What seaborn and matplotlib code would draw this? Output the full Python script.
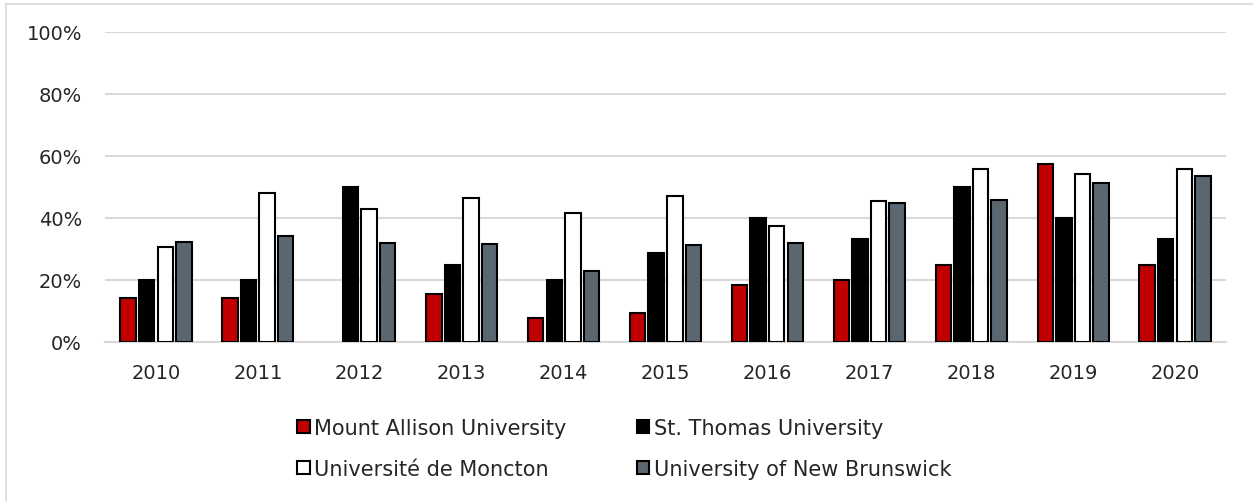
import pandas as pd
import numpy as np
import matplotlib.pyplot as plt
import seaborn as sns
from matplotlib.ticker import PercentFormatter

# Values (percent); no Mount Allison bar in 2012
years = ['2010', '2011', '2012', '2013', '2014', '2015', '2016', '2017', '2018', '2019', '2020']
mount_allison = [14.3, 14.3, np.nan, 15.5, 7.8, 9.2, 18.3, 20.0, 25.0, 57.3, 25.0]
st_thomas = [20.0, 20.0, 50.0, 25.0, 20.0, 28.6, 40.0, 33.3, 50.0, 40.0, 33.3]
moncton = [30.5, 48.0, 42.9, 46.5, 41.5, 47.0, 37.5, 45.5, 55.9, 54.3, 55.7]
unb = [32.4, 34.1, 31.9, 31.5, 23.0, 31.4, 31.8, 44.9, 45.8, 51.2, 53.7]

series = ['Mount Allison University', 'St. Thomas University',
          'Université de Moncton', 'University of New Brunswick']
colors = ['#C00000', '#000000', '#FFFFFF', '#5B6770']

df = pd.DataFrame({'year': years * 4,
                   'school': np.repeat(series, len(years)),
                   'value': mount_allison + st_thomas + moncton + unb})

sns.set_style('white')
plt.rcParams['font.family'] = ['DejaVu Sans']

fig = plt.figure(figsize=(12.53, 5.02), dpi=100)
ax = fig.add_axes([105 / 1253, 1 - 343 / 502, 1121 / 1253, 310 / 502])

sns.barplot(data=df, x='year', y='value', hue='school', hue_order=series,
            palette=colors, saturation=1, errorbar=None,
            width=0.73, gap=0.17, edgecolor='black', linewidth=1.5,
            ax=ax, zorder=3)

ax.set_ylim(0, 100)
ax.set_yticks(range(0, 101, 20))
ax.yaxis.set_major_formatter(PercentFormatter(decimals=0))
ax.set_xlim(-0.5, len(years) - 0.5)
ax.set_xlabel('')
ax.set_ylabel('')
ax.grid(axis='y', color='#D9D9D9', linewidth=1.5, zorder=0)
for side in ['top', 'right', 'left']:
    ax.spines[side].set_visible(False)
ax.spines['bottom'].set_color('#D9D9D9')
ax.spines['bottom'].set_linewidth(1.5)
ax.tick_params(axis='both', length=0, labelsize=14, colors='#262626')
ax.tick_params(axis='y', pad=16.5)
ax.tick_params(axis='x', pad=15)

# legend filled row by row: Mount Allison, St. Thomas / Moncton, UNB
handles, labels = ax.get_legend_handles_labels()
order = [0, 2, 1, 3]
ax.legend_.remove()
fig.legend([handles[i] for i in order], [labels[i] for i in order],
           loc='upper left', bbox_to_anchor=(297 / 1253, 1 - 419 / 502),
           ncol=2, frameon=False, fontsize=15, handlelength=0.6,
           handleheight=0.6, handletextpad=0.2, columnspacing=3.4,
           labelspacing=1.0, borderpad=0, borderaxespad=0)

# light outer frame (top and left edges visible in the reference)
fig.add_artist(plt.Line2D([5.5 / 1253, 1], [1 - 4.5 / 502, 1 - 4.5 / 502],
                          transform=fig.transFigure, color='#D9D9D9', linewidth=1.2))
fig.add_artist(plt.Line2D([5.5 / 1253, 5.5 / 1253], [0, 1 - 4.5 / 502],
                          transform=fig.transFigure, color='#D9D9D9', linewidth=1.2))

fig.savefig('out.png', dpi=100)
